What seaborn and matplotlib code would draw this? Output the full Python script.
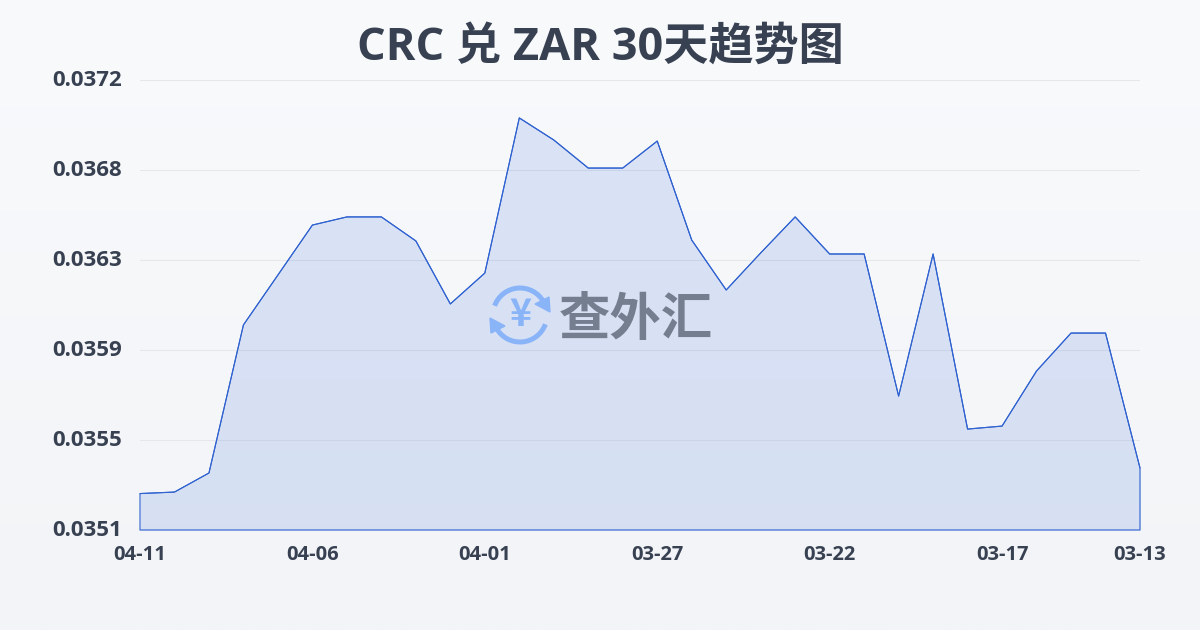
import numpy as np
import pandas as pd
import matplotlib
matplotlib.use("Agg")
import matplotlib.pyplot as plt
from matplotlib.patches import Arc, Polygon
from matplotlib.transforms import ScaledTranslation
import seaborn as sns

dates = ["04-11", "04-10", "04-09", "04-08", "04-07", "04-06", "04-05", "04-04", "04-03", "04-02",
         "04-01", "03-31", "03-30", "03-29", "03-28", "03-27", "03-26", "03-25", "03-24", "03-23",
         "03-22", "03-21", "03-20", "03-19", "03-18", "03-17", "03-16", "03-15", "03-14", "03-13"]
rates = [0.035270, 0.035277, 0.035366, 0.036057, 0.036290, 0.036523, 0.036561, 0.036561, 0.036449, 0.036155,
         0.036299, 0.037023, 0.036920, 0.036789, 0.036789, 0.036915, 0.036453, 0.036220, 0.036393, 0.036561,
         0.036388, 0.036388, 0.035725, 0.036388, 0.035571, 0.035585, 0.035842, 0.036019, 0.036019, 0.035389]
y_ticks = [0.0351, 0.03552, 0.03594, 0.03636, 0.03678, 0.0372]
y_labels = ["0.0351", "0.0355", "0.0359", "0.0363", "0.0368", "0.0372"]
x_tick_pos = [0, 5, 10, 15, 20, 25, 29]

sns.set_theme(style="white")
plt.rcParams["font.family"] = ["Open Sans", "Noto Sans CJK SC", "DejaVu Sans"]
cjk = ["Noto Sans CJK SC", "DejaVu Sans"]

df = pd.DataFrame({"idx": range(len(dates)), "date": dates, "rate": rates})

fig = plt.figure(figsize=(12, 6.3), dpi=100)

# background gradient
bg = fig.add_axes([0, 0, 1, 1], zorder=0)
bg.imshow(np.linspace(0, 1, 256).reshape(-1, 1), aspect="auto", extent=[0, 1200, 630, 0],
          cmap=matplotlib.colors.LinearSegmentedColormap.from_list("bg", ["#f9fafc", "#f2f4f7"]))
bg.axis("off")

ax = fig.add_axes([140 / 1200, 1 - 530 / 630, 1000 / 1200, 450 / 630], zorder=1)
ax.patch.set_alpha(0)

ax.fill_between(df["idx"], df["rate"], y_ticks[0], facecolor="#3568dc", alpha=0.15, lw=0, zorder=2)
ax.fill_between(df["idx"], df["rate"], y_ticks[0], facecolor="none", edgecolor="#2f62d0", lw=0.8,
                zorder=3, clip_on=False)
sns.lineplot(data=df, x="idx", y="rate", ax=ax, color="#2f62d0", lw=0.8, zorder=3, clip_on=False)

ax.set_xlim(0, 29)
ax.set_ylim(y_ticks[0], y_ticks[-1])
ax.set_yticks(y_ticks)
ax.set_yticklabels(y_labels, fontsize=16, fontweight="bold", color="#374151")
ax.set_xticks(x_tick_pos)
ax.set_xticklabels([dates[i] for i in x_tick_pos], fontsize=14.5, fontweight="bold", color="#374151")
ax.set_xlabel("")
ax.set_ylabel("")
ax.tick_params(axis="y", length=0, pad=13)
ax.tick_params(axis="x", length=0, pad=11)
# y labels sit a little above their grid lines
up = ScaledTranslation(0, 2 / 100, fig.dpi_scale_trans)
for lab in ax.get_yticklabels():
    lab.set_transform(lab.get_transform() + up)
ax.grid(axis="y", color="#e5e7eb", lw=0.8)
ax.set_axisbelow(True)
sns.despine(ax=ax, left=True, bottom=True)

fig.text(600 / 1200, 1 - 48 / 630, "CRC 兑 ZAR 30天趋势图", ha="center", va="center",
         fontsize=32.5, fontweight="bold", color="#374151")

# watermark logo
wm = fig.add_axes([0, 0, 1, 1], zorder=5)
wm.set_xlim(0, 1200)
wm.set_ylim(630, 0)
wm.axis("off")
wm.patch.set_alpha(0)
logo = "#8ab4f8"
wm.add_patch(Arc((520, 315), 54, 54, theta1=20, theta2=150, color=logo, lw=3.6))
wm.add_patch(Arc((520, 315), 54, 54, theta1=200, theta2=330, color=logo, lw=3.6))
wm.add_patch(Polygon([[549, 297], [550, 312], [535, 304]], color=logo))
wm.add_patch(Polygon([[491, 333], [490, 318], [505, 326]], color=logo))
wm.text(520, 315, "¥", ha="center", va="center", fontsize=27, fontweight="bold", color=logo, family=cjk)
wm.text(636, 319, "查外汇", ha="center", va="center", fontsize=37, fontweight="bold", color="#757e8e", family=cjk)

fig.savefig("out.png", dpi=100)
